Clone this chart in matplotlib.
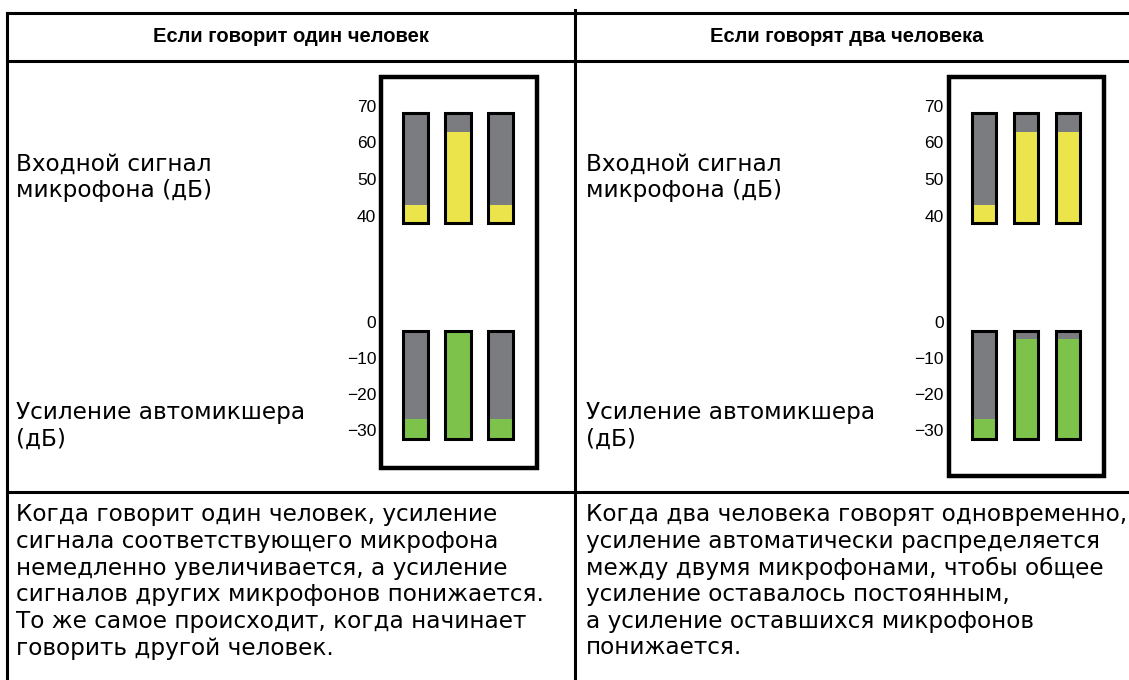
import matplotlib
matplotlib.use("Agg")
import matplotlib.pyplot as plt
from matplotlib.patches import Rectangle

plt.rcParams['font.family'] = ['Liberation Sans', 'DejaVu Sans']

# ---------------- data ----------------
headers = ["Если говорит один человек", "Если говорят два человека"]
input_label = ["Входной сигнал", "микрофона (дБ)"]
gain_label = ["Усиление автомикшера", "(дБ)"]
captions = [
    ["Когда говорит один человек, усиление",
     "сигнала соответствующего микрофона",
     "немедленно увеличивается, а усиление",
     "сигналов других микрофонов понижается.",
     "То же самое происходит, когда начинает",
     "говорить другой человек."],
    ["Когда два человека говорят одновременно,",
     "усиление автоматически распределяется",
     "между двумя микрофонами, чтобы общее",
     "усиление оставалось постоянным,",
     "а усиление оставшихся микрофонов",
     "понижается."],
]
channels = [0, 1, 2]
input_ticks = [40, 50, 60, 70]
gain_ticks = [0, -10, -20, -30]
input_range = (38, 68)      # meter scale min / max (dB)
gain_range = (-32.5, -2.5)  # meter scale min / max (dB)
input_one = [43, 63, 43]
gain_one = [-27, -2.5, -27]
input_two = [43, 63, 63]
gain_two = [-27, -4.7, -4.7]

GRAY = "#7b7c80"
YELLOW = "#ebe54b"
GREEN = "#7dc24b"

W, H = 1129, 680
fig = plt.figure(figsize=(W / 100, H / 100), dpi=100)
bg = fig.add_axes([0, 0, 1, 1])
bg.set_xlim(0, W)
bg.set_ylim(H, 0)
bg.axis('off')

# table lines
lw_t = 2.2
bg.plot([7, W], [13, 13], color='k', lw=lw_t)
bg.plot([7, W], [61, 61], color='k', lw=lw_t)
bg.plot([7, W], [492, 492], color='k', lw=lw_t)
bg.plot([7, 7], [13, H], color='k', lw=lw_t)
bg.plot([575, 575], [10, H], color='k', lw=lw_t)

BODY = ['DejaVu Sans']
HEAD = ['Liberation Sans', 'DejaVu Sans']
# headers
bg.text(291, 37, headers[0], ha='center', va='center', fontsize=14.5, fontweight='bold', family=HEAD)
bg.text(847, 37, headers[1], ha='center', va='center', fontsize=14.5, fontweight='bold', family=HEAD)

fs = 16.7
for x0 in (16, 586):
    bg.text(x0, 164, input_label[0], ha='left', va='center', fontsize=fs, family=BODY)
    bg.text(x0, 191, input_label[1], ha='left', va='center', fontsize=fs, family=BODY)
    bg.text(x0, 412, gain_label[0], ha='left', va='center', fontsize=fs, family=BODY)
    bg.text(x0, 439, gain_label[1], ha='left', va='center', fontsize=fs, family=BODY)

for x0, lines in zip((16, 586), captions):
    for i, line in enumerate(lines):
        bg.text(x0, 515 + i * 26.6, line, ha='left', va='center', fontsize=fs, family=BODY)

# meter frames
bg.add_patch(Rectangle((381, 77), 156, 391, fill=False, ec='k', lw=3.2))
bg.add_patch(Rectangle((949, 77), 155, 399, fill=False, ec='k', lw=3.2))


def px_axes(x0, x1, y_top, y_bot):
    return fig.add_axes([x0 / W, 1 - y_bot / H, (x1 - x0) / W, (y_bot - y_top) / H])


def meter(x0, x1, y_top, y_bot, ylim, rng, levels, color, ticks, pad):
    ax = px_axes(x0, x1, y_top, y_bot)
    ax.set_xlim(-0.5, 2.5)
    ax.set_ylim(*ylim)
    bw = 0.59
    lo, hi = rng
    ax.bar(channels, [hi - lo] * 3, bottom=lo, width=bw, color=GRAY, zorder=1)
    ax.bar(channels, [v - lo for v in levels], bottom=lo, width=bw, color=color, zorder=2)
    ax.bar(channels, [hi - lo] * 3, bottom=lo, width=bw, fill=False,
           edgecolor='k', linewidth=2.2, zorder=3)
    ax.set_yticks(ticks)
    ax.set_yticklabels([str(t).replace('-', '\u2212') for t in ticks], fontsize=12.5)
    ax.tick_params(axis='y', length=0, pad=pad)
    ax.set_xticks([])
    for s in ax.spines.values():
        s.set_visible(False)
    ax.patch.set_alpha(0)
    return ax


# input meters: 40 dB at y=215.5 px, 3.65 px/dB
def in_px(db):
    return 215.5 - (db - 40) * 3.65


def g_px(db):
    return 322 - db * 3.6


ylim_in = (35, 72)
ylim_g = (-35, 0.5)
# left panel
meter(394.25, 521.75, in_px(72), in_px(35), ylim_in, input_range, input_one, YELLOW, input_ticks, 13)
meter(394.25, 521.75, g_px(0.5), g_px(-35), ylim_g, gain_range, gain_one, GREEN, gain_ticks, 13)
# right panel
meter(963, 1089, in_px(72), in_px(35), ylim_in, input_range, input_two, YELLOW, input_ticks, 14)
meter(963, 1089, g_px(0.5), g_px(-35), ylim_g, gain_range, gain_two, GREEN, gain_ticks, 14)

fig.savefig("out.png", dpi=100)
